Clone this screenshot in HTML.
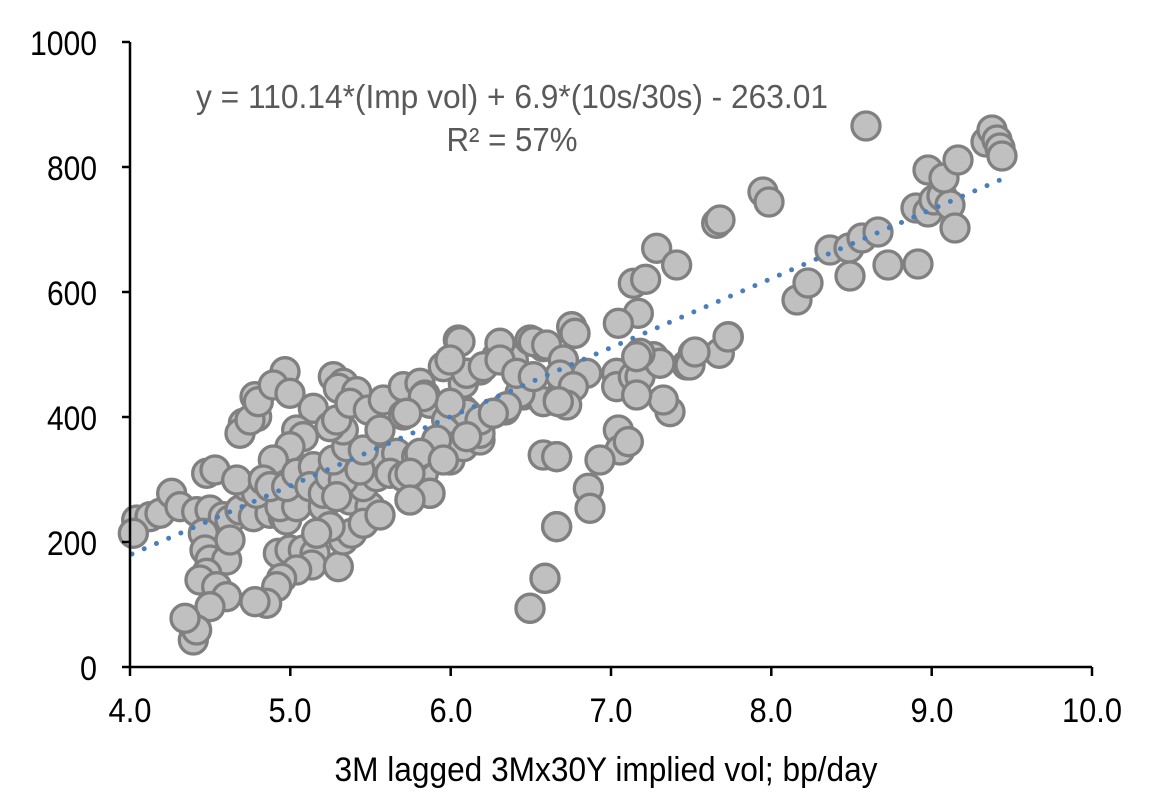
<!DOCTYPE html>
<html><head><meta charset="utf-8"><style>body{margin:0;background:#fff}svg{display:block}text{font-family:"Liberation Sans",sans-serif;fill:#000}</style></head><body>
<svg width="1152" height="795" viewBox="0 0 1152 795" xmlns="http://www.w3.org/2000/svg">
<g fill="#c0c0c0" stroke="#808080">
<g transform="translate(130,320) scale(0.33333)" stroke-width="10">
<circle cx="20" cy="600" r="42"/><circle cx="60" cy="590" r="42"/><circle cx="90" cy="580" r="42"/><circle cx="125" cy="520" r="42"/><circle cx="150" cy="560" r="42"/><circle cx="200" cy="575" r="42"/><circle cx="240" cy="570" r="42"/><circle cx="10" cy="640" r="42"/><circle cx="280" cy="590" r="42"/><circle cx="300" cy="600" r="42"/><circle cx="330" cy="570" r="42"/><circle cx="370" cy="590" r="42"/><circle cx="420" cy="580" r="42"/><circle cx="460" cy="590" r="42"/><circle cx="470" cy="600" r="42"/>
<circle cx="220" cy="640" r="42"/><circle cx="225" cy="690" r="42"/><circle cx="240" cy="720" r="42"/><circle cx="290" cy="720" r="42"/><circle cx="300" cy="660" r="42"/><circle cx="230" cy="760" r="42"/><circle cx="210" cy="780" r="42"/><circle cx="260" cy="800" r="42"/><circle cx="290" cy="830" r="42"/><circle cx="240" cy="860" r="42"/><circle cx="190" cy="960" r="42"/><circle cx="200" cy="930" r="42"/><circle cx="165" cy="895" r="42"/>
<circle cx="230" cy="460" r="42"/><circle cx="255" cy="450" r="42"/><circle cx="340" cy="310" r="42"/><circle cx="330" cy="340" r="42"/><circle cx="380" cy="290" r="42"/><circle cx="360" cy="300" r="42"/><circle cx="375" cy="230" r="42"/><circle cx="385" cy="245" r="42"/><circle cx="465" cy="155" r="42"/><circle cx="430" cy="195" r="42"/><circle cx="480" cy="220" r="42"/>
<circle cx="350" cy="500" r="42"/><circle cx="380" cy="520" r="42"/><circle cx="320" cy="480" r="42"/><circle cx="450" cy="560" r="42"/><circle cx="500" cy="560" r="42"/><circle cx="580" cy="560" r="42"/><circle cx="660" cy="540" r="42"/><circle cx="720" cy="560" r="42"/><circle cx="700" cy="500" r="42"/><circle cx="740" cy="470" r="42"/><circle cx="760" cy="420" r="42"/>
<circle cx="550" cy="265" r="42"/><circle cx="500" cy="330" r="42"/><circle cx="520" cy="350" r="42"/><circle cx="480" cy="380" r="42"/><circle cx="430" cy="420" r="42"/><circle cx="400" cy="480" r="42"/><circle cx="420" cy="500" r="42"/><circle cx="470" cy="500" r="42"/><circle cx="500" cy="460" r="42"/><circle cx="550" cy="440" r="42"/><circle cx="540" cy="500" r="42"/><circle cx="580" cy="520" r="42"/><circle cx="600" cy="470" r="42"/><circle cx="640" cy="480" r="42"/><circle cx="620" cy="530" r="42"/><circle cx="610" cy="420" r="42"/><circle cx="650" cy="380" r="42"/><circle cx="690" cy="450" r="42"/><circle cx="700" cy="390" r="42"/><circle cx="640" cy="330" r="42"/><circle cx="600" cy="320" r="42"/><circle cx="620" cy="300" r="42"/><circle cx="610" cy="170" r="42"/><circle cx="640" cy="190" r="42"/><circle cx="625" cy="205" r="42"/><circle cx="680" cy="215" r="42"/><circle cx="660" cy="250" r="42"/><circle cx="715" cy="270" r="42"/><circle cx="750" cy="330" r="42"/><circle cx="760" cy="240" r="42"/><circle cx="820" cy="200" r="42"/><circle cx="870" cy="190" r="42"/><circle cx="885" cy="225" r="42"/><circle cx="820" cy="285" r="42"/><circle cx="800" cy="400" r="42"/><circle cx="780" cy="460" r="42"/><circle cx="820" cy="470" r="42"/><circle cx="880" cy="460" r="42"/><circle cx="900" cy="520" r="42"/><circle cx="840" cy="540" r="42"/><circle cx="860" cy="410" r="42"/><circle cx="920" cy="360" r="42"/><circle cx="960" cy="420" r="42"/><circle cx="1000" cy="380" r="42"/><circle cx="1050" cy="320" r="42"/><circle cx="1050" cy="360" r="42"/><circle cx="900" cy="250" r="42"/><circle cx="960" cy="250" r="42"/><circle cx="950" cy="300" r="42"/><circle cx="1000" cy="270" r="42"/><circle cx="1000" cy="190" r="42"/><circle cx="940" cy="140" r="42"/><circle cx="1010" cy="160" r="42"/><circle cx="985" cy="60" r="42"/><circle cx="1050" cy="150" r="42"/><circle cx="1110" cy="70" r="42"/><circle cx="1100" cy="110" r="42"/><circle cx="1150" cy="120" r="42"/><circle cx="1200" cy="60" r="42"/><circle cx="1240" cy="80" r="42"/><circle cx="1335" cy="40" r="42"/><circle cx="1300" cy="120" r="42"/><circle cx="1300" cy="190" r="42"/><circle cx="1180" cy="225" r="42"/><circle cx="1240" cy="245" r="42"/><circle cx="1285" cy="240" r="42"/><circle cx="1125" cy="270" r="42"/><circle cx="1090" cy="280" r="42"/>
<circle cx="445" cy="700" r="42"/><circle cx="480" cy="690" r="42"/><circle cx="520" cy="690" r="42"/><circle cx="555" cy="700" r="42"/><circle cx="545" cy="735" r="42"/><circle cx="500" cy="750" r="42"/><circle cx="625" cy="740" r="42"/><circle cx="640" cy="660" r="42"/><circle cx="665" cy="640" r="42"/><circle cx="700" cy="610" r="42"/><circle cx="750" cy="585" r="42"/><circle cx="600" cy="620" r="42"/><circle cx="560" cy="640" r="42"/><circle cx="455" cy="775" r="42"/><circle cx="440" cy="800" r="42"/><circle cx="410" cy="850" r="42"/><circle cx="375" cy="845" r="42"/>
<circle cx="1240" cy="405" r="42"/><circle cx="1280" cy="410" r="42"/><circle cx="1280" cy="620" r="42"/><circle cx="1245" cy="775" r="42"/><circle cx="1200" cy="865" r="42"/>
</g>
<g transform="translate(400,220) scale(0.33333)" stroke-width="10">
<circle cx="950" cy="10" r="42"/><circle cx="770" cy="85" r="42"/><circle cx="830" cy="135" r="42"/><circle cx="700" cy="190" r="42"/><circle cx="737" cy="178" r="42"/><circle cx="715" cy="280" r="42"/><circle cx="655" cy="310" r="42"/><circle cx="515" cy="320" r="42"/><circle cx="525" cy="340" r="42"/><circle cx="985" cy="350" r="42"/><circle cx="958" cy="400" r="42"/><circle cx="880" cy="400" r="42"/><circle cx="860" cy="435" r="42"/><circle cx="650" cy="460" r="42"/><circle cx="650" cy="500" r="42"/><circle cx="700" cy="470" r="42"/><circle cx="720" cy="470" r="42"/><circle cx="760" cy="410" r="42"/><circle cx="780" cy="430" r="42"/><circle cx="720" cy="400" r="42"/><circle cx="710" cy="410" r="42"/><circle cx="810" cy="575" r="42"/><circle cx="790" cy="540" r="42"/><circle cx="710" cy="525" r="42"/>
<circle cx="655" cy="630" r="42"/><circle cx="660" cy="690" r="42"/><circle cx="685" cy="665" r="42"/><circle cx="600" cy="720" r="42"/><circle cx="565" cy="805" r="42"/><circle cx="570" cy="865" r="42"/><circle cx="470" cy="920" r="42"/><circle cx="435" cy="1075" r="42"/><circle cx="390" cy="1165" r="42"/><circle cx="430" cy="705" r="42"/><circle cx="470" cy="710" r="42"/>
<circle cx="180" cy="365" r="42"/><circle cx="300" cy="370" r="42"/><circle cx="400" cy="365" r="42"/><circle cx="440" cy="375" r="42"/><circle cx="490" cy="420" r="42"/><circle cx="480" cy="465" r="42"/><circle cx="560" cy="460" r="42"/><circle cx="520" cy="500" r="42"/><circle cx="500" cy="555" r="42"/><circle cx="475" cy="545" r="42"/><circle cx="360" cy="520" r="42"/><circle cx="320" cy="560" r="42"/><circle cx="240" cy="640" r="42"/><circle cx="200" cy="580" r="42"/><circle cx="150" cy="550" r="42"/><circle cx="70" cy="530" r="42"/><circle cx="20" cy="580" r="42"/><circle cx="110" cy="660" r="42"/><circle cx="60" cy="700" r="42"/><circle cx="30" cy="760" r="42"/><circle cx="90" cy="820" r="42"/><circle cx="30" cy="840" r="42"/><circle cx="200" cy="460" r="42"/><circle cx="250" cy="440" r="42"/><circle cx="150" cy="420" r="42"/><circle cx="300" cy="420" r="42"/><circle cx="350" cy="460" r="42"/><circle cx="400" cy="470" r="42"/><circle cx="240" cy="600" r="42"/><circle cx="280" cy="580" r="42"/><circle cx="200" cy="650" r="42"/><circle cx="130" cy="720" r="42"/>
</g>
<g stroke-width="3.3">
<circle cx="720" cy="220" r="14"/><circle cx="763" cy="192" r="14"/><circle cx="769" cy="202" r="14"/><circle cx="866" cy="126" r="14"/><circle cx="797" cy="300" r="14"/><circle cx="808" cy="283" r="14"/><circle cx="830" cy="250" r="14"/><circle cx="849" cy="248" r="14"/><circle cx="862" cy="238" r="14"/><circle cx="878" cy="232" r="14"/><circle cx="850" cy="276" r="14"/><circle cx="888" cy="265" r="14"/><circle cx="918" cy="264" r="14"/><circle cx="916" cy="208" r="14"/><circle cx="928" cy="212" r="14"/><circle cx="934" cy="200" r="14"/><circle cx="942" cy="196" r="14"/><circle cx="950" cy="205" r="14"/><circle cx="955" cy="228" r="14"/><circle cx="928" cy="170" r="14"/><circle cx="944" cy="178" r="14"/><circle cx="958" cy="160" r="14"/><circle cx="986" cy="142" r="14"/><circle cx="992" cy="130" r="14"/><circle cx="997" cy="140" r="14"/><circle cx="1000" cy="148" r="14"/><circle cx="1002" cy="156" r="14"/><circle cx="728" cy="337" r="14"/><circle cx="690" cy="365" r="14"/><circle cx="695" cy="352" r="14"/>
</g>
</g>
<line x1="132" y1="554" x2="1000" y2="180" stroke="#4a7ebb" stroke-width="5" stroke-linecap="round" stroke-dasharray="0 13.3"/>
<g stroke="#000" stroke-width="2.5">
<line x1="130" y1="42" x2="130" y2="668"/><line x1="129" y1="667" x2="1092" y2="667"/>
<line x1="122" y1="42" x2="130" y2="42"/><line x1="122" y1="167" x2="130" y2="167"/><line x1="122" y1="292" x2="130" y2="292"/><line x1="122" y1="417" x2="130" y2="417"/><line x1="122" y1="542" x2="130" y2="542"/><line x1="122" y1="667" x2="130" y2="667"/>
<line x1="130" y1="667" x2="130" y2="676"/><line x1="290.3" y1="667" x2="290.3" y2="676"/><line x1="450.7" y1="667" x2="450.7" y2="676"/><line x1="611" y1="667" x2="611" y2="676"/><line x1="771.3" y1="667" x2="771.3" y2="676"/><line x1="931.7" y1="667" x2="931.7" y2="676"/><line x1="1092" y1="667" x2="1092" y2="676"/>
</g>
<g font-size="34" text-anchor="end">
<text x="97" y="55" textLength="67" lengthAdjust="spacingAndGlyphs">1000</text>
<text x="97" y="180" textLength="50" lengthAdjust="spacingAndGlyphs">800</text>
<text x="97" y="305" textLength="50" lengthAdjust="spacingAndGlyphs">600</text>
<text x="97" y="430" textLength="50" lengthAdjust="spacingAndGlyphs">400</text>
<text x="97" y="555" textLength="50" lengthAdjust="spacingAndGlyphs">200</text>
<text x="97" y="680" textLength="17" lengthAdjust="spacingAndGlyphs">0</text>
</g>
<g font-size="34" text-anchor="middle">
<text x="130" y="722" textLength="43" lengthAdjust="spacingAndGlyphs">4.0</text><text x="290" y="722" textLength="43" lengthAdjust="spacingAndGlyphs">5.0</text><text x="451" y="722" textLength="43" lengthAdjust="spacingAndGlyphs">6.0</text><text x="611" y="722" textLength="43" lengthAdjust="spacingAndGlyphs">7.0</text><text x="771" y="722" textLength="43" lengthAdjust="spacingAndGlyphs">8.0</text><text x="932" y="722" textLength="43" lengthAdjust="spacingAndGlyphs">9.0</text><text x="1092" y="722" textLength="60" lengthAdjust="spacingAndGlyphs">10.0</text>
<text x="606" y="781" textLength="543" lengthAdjust="spacingAndGlyphs">3M lagged 3Mx30Y implied vol; bp/day</text>
</g>
<g font-size="33" text-anchor="middle">
<text x="512" y="108" style="fill:#595959" textLength="632" lengthAdjust="spacingAndGlyphs">y = 110.14*(Imp vol) + 6.9*(10s/30s) - 263.01</text>
<text x="512" y="151" style="fill:#595959" textLength="131" lengthAdjust="spacingAndGlyphs">R² = 57%</text>
</g>
</svg>
</body></html>
